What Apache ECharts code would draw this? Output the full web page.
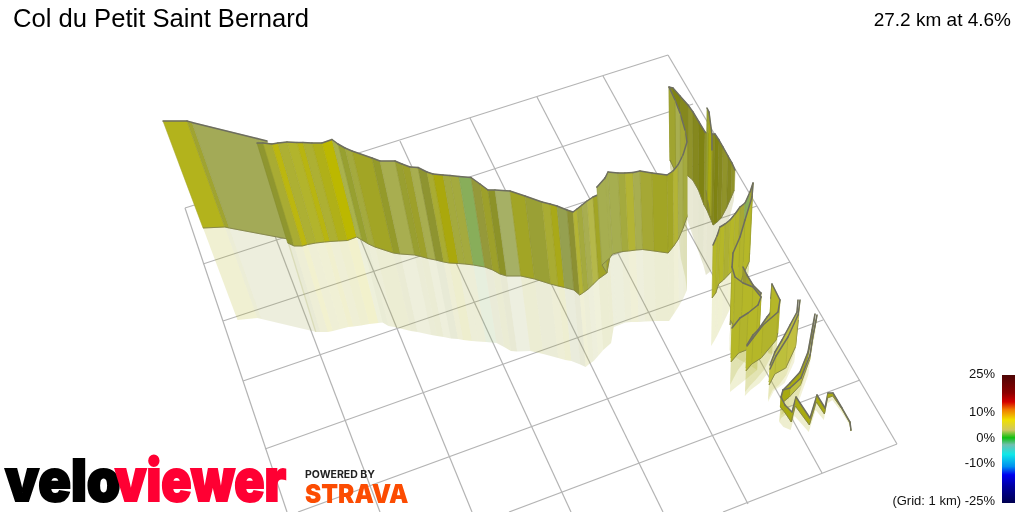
<!DOCTYPE html>
<html><head><meta charset="utf-8">
<style>html,body{margin:0;padding:0;background:#fff}#c{width:1024px;height:512px}</style>
<script src="https://cdn.jsdelivr.net/npm/echarts@6/dist/echarts.min.js"></script>
</head><body><div id="c"></div>
<script>
// Values, in the chart's plan units.
// Each vertex: [along, topLevel, baseLevel, shadowLevel, shadeIndex]; shadowLevel null = no shadow panel
var shades = ['#b3b31c','#a0a430','#a3aa57','#8f962f','#a9ac33','#bcb70f','#adb033','#b2b42c','#b8b510','#b0b018','#bcb800','#a9b24c','#97a030','#a4aa3e','#a2a525','#949a2a','#a8ae50','#999f30','#8e9430','#a9a918','#aaa80c','#88ae5a','#95993a','#9da02a','#8c9228','#a6b065','#9aa035','#95a050','#8c9032','#b3b435','#b5b84a','#a6ae50','#a5a835','#85881e','#7f8312','#90932a','#b5b728','#bdbf3c','#a8aa10','#c2c040','#9a9a30'];

var wallLeft = [[163,121,228,320,0],[187,121,227,318,1],[192,122.4,228,319,2],[257,138.5,239,332,2],[267,141,241,null,2]];
var wallMain = [[257,143,243,332,3],[263,143,246,332,4],[272,144,246,332,5],[278,143,244.5,331,6],[287,142,243,329,7],[297,142.5,242,327,8],[303,142.5,241.5,326.5,6],[312,143,241,325.5,9],[322,143,240.5,324,10],[332,139.5,237,323,11],[338,144,240,322.5,12],[345,148,244,326,13],[352,151,247,327,14],[372,158,253,331,15],[380,161,254,332,16],[395,161,255,335,17],[402,164,256.5,336,23],[410,167,258.5,337,16],[418,167.5,260,338.5,18],[427,172,262,339,4],[433,174,263,340,20],[443,175,263.5,341,13],[450,175.5,264,341.5,13],[459,176.5,265,342,21],[471,177.5,267,343,22],[480,184,270,347,23],[488,190,274,351,24],[495,190,276,351.5,25],[510,191,276,351,14],[525,196,279,354,26],[542,202,284,358,4],[550,204,286,360,19],[557,206,287.5,361,27],[567,210,290,364.5,28],[573,212,295,367,29],[577,209,292.5,364,13],[582,205,289,361,16],[587,201,284.5,356,30],[593,197,279,350,14],[602,193,273,343,14],[605,178,258,327,31],[608,172,254,326,31],[618,173,251.5,322.5,13],[625,173,251,322,29],[633,172.5,250,322,16],[640,171,249.5,321.5,32],[652,173,251,321,14],[667,175,253,321,14],[673,171,246,313,29],[678,165,239,306,16],[683,155,228,298,13],[687,142,217,290,12]];
var wallKink = [[602,193,273,null,31],[597,187,265,null,31],[605,178,258,null,31]];
var hairpinBack = [[687,142,217,290,13],[685,130,203,277,32],[680,113,186,258,16],[675,100,172,210,1],[669,87,160,168,1]];
var farWall = [[669,87,160,168,33],[673,88,165,180,34],[680,96,170,200,33],[688,105,176,222,35],[693,112,180,235,33],[699,122,190,250,34],[705,132,205,265,35],[708,134,210,275,33],[715,134,225,270,34],[719,140,222,260,33],[723,147,218,250,35],[728,156,208,230,33],[732,163,198,215,35],[735,170,190,200,33]];
var spike = [[707,108,190,195,12],[709,112,200,205,38],[712,135,216,220,1],[712,150,216,220,1]];
var wall3Back = [[713,245,298,346,36],[717,236,293,340,7],[720,227,284,335,36],[725,224,280,325,6],[730,220,275,315,36],[735,214,270,305,7],[740,207,267,300,32],[745,203,262,290,21],[750,192,258,280,32],[753,183,253,270,32]];
var wall3Front = [[753,183,253,270,32],[752,197,262,280,36],[745,220,276,296,7],[740,237,294,314,36],[733,253,310,330,40],[732,267,325,345,40]];
var wall4Back = [[743,267,310,320,40],[747,275,315,325,14],[753,285,320,330,40],[761,293,330,345,14],[758,301,338,352,14],[748,309,345,360,14],[740,314,350,370,14],[732,323,358,385,14]];
var wall4Front = [[732,267,320,350,36],[735,277,325,355,7],[743,283,330,360,36],[753,287,335,365,36],[761,297,340,370,36],[758,305,342,372,36],[748,313,350,380,7],[740,318,353,386,36],[732,328,362,392,36]];
var wall5Back = [[772,284,330,350,6],[771,298,333,353,6],[775,307,336,355,6],[767,317,348,370,6],[758,330,358,380,6],[753,335,361,385,6],[747,345,368,392,6]];
var wall5Front = [[772,284,332,352,36],[780,300,333,355,36],[778,312,340,365,7],[763,325,358,383,36],[753,338,364,390,36],[747,346,371,396,36]];
var wall6Back = [[798,300,318,332,37],[797,312,340,355,37],[790,325,360,375,37],[782,340,368,385,37],[775,352,372,390,37],[770,365,382,400,37]];
var wall6Front = [[800,300,320,335,37],[798,315,347,362,39],[788,337,368,383,37],[776,356,374,391,37],[770,369,385,402,37]];
var wall7Back = [[815,314,318,330,37],[812,330,340,355,38],[808,352,358,372,38],[800,372,383,398,38],[790,383,395,410,38],[783,390,400,415,38]];
var wall7Front = [[817,315,318,333,39],[813,335,340,355,37],[810,355,360,375,39],[801,378,385,400,37],[790,388,397,413,38],[783,390,403,418,38],[781,397,407,422,38],[785,405,412,427,38],[792,412,422,430,38]];
var zigzag = [[792,412,422,430,38],[796,397,406,416,38],[810,418,425,432,38],[817,395,402,410,38],[825,408,414,420,38],[828,393,398,404,38],[833,393,396,400,38],[842,408,409,412,38],[850,422,423,425,38],[851,430,431,432,38]];
var ribbons = [wallLeft, farWall, spike, hairpinBack, wallMain, wallKink, wall3Back, wall3Front, wall4Back, wall4Front, wall5Back, wall5Front, wall6Back, wall6Front, wall7Back, wall7Front, zigzag];

// Grid: 1 km squares, [x1, y1, x2, y2]
var gridAcross = [[185,208,668,55],[203,264,693,104],[223,321,727,155],[243,381,757,206],[265,449,790,262],[298,512,823,320],[509,512,860,380],[723,512,897,444]];
var gridAlong = [[185,208,287,512],[256,186,380,512],[329,162,472,512],[400,141,571,512],[470,118,663,512],[537,97,748,504],[603,76,822,473],[668,55,897,444]];

var titleText = 'Col du Petit Saint Bernard';
var summaryText = '27.2 km at 4.6%';
var gradeTicks = [['25%',374],['10%',412],['0%',438],['-10%',463],['(Grid: 1 km) -25%',501]];
var rampStops = [[0,'#4d0505'],[0.14,'#8c0000'],[0.21,'#d40000'],[0.27,'#f07a00'],[0.35,'#f0e000'],[0.43,'#d0c860'],[0.49,'#10c010'],[0.545,'#70c0b0'],[0.62,'#10e8e8'],[0.715,'#0090f0'],[0.78,'#0000f0'],[0.87,'#0000a0'],[1,'#000050']];

function lean(x, y0, y1){ return x + (687 - x) / 1400 * (y1 - y0); }

var series = [];
series.push({
  type:'custom', coordinateSystem:'cartesian2d', z:1, silent:true,
  data: gridAcross.concat(gridAlong),
  renderItem:function(p, api){
    var a = api.coord([api.value(0), api.value(1)]), b = api.coord([api.value(2), api.value(3)]);
    return {type:'line', shape:{x1:a[0],y1:a[1],x2:b[0],y2:b[1]}, style:{stroke:'#b4b4b4',lineWidth:1.2,fill:null}};
  }
});

ribbons.forEach(function(rib, idx){
  var api0;
  function side(i, level){
    var v = rib[i], c = v[level];
    return api0.coord([lean(v[0], v[1], c), c]);
  }
  series.push({
    type:'custom', coordinateSystem:'cartesian2d', z:2, silent:true, data:rib,
    renderItem:function(p, api){
      api0 = api; var i = p.dataIndex;
      if (i >= rib.length - 1 || rib[i][3] === null || rib[i+1][3] === null) return null;
      var pts = [side(i,2), side(i+1,2), side(i+1,3), side(i,3)];
      return {type:'polygon', shape:{points:pts}, style:{fill:shades[rib[i][4]], opacity:0.2}};
    }
  });
  series.push({
    type:'custom', coordinateSystem:'cartesian2d', z:10+idx, silent:true, data:rib,
    renderItem:function(p, api){
      api0 = api; var i = p.dataIndex;
      if (i >= rib.length - 1) return null;
      var t0 = side(i,1), t1 = side(i+1,1), b0 = side(i,2), b1 = side(i+1,2);
      var col = shades[rib[i][4]];
      return {type:'group', children:[
        {type:'polygon', shape:{points:[t0,t1,b1,b0]}, style:{fill:col, stroke:col, lineWidth:0.5}},
        {type:'line', shape:{x1:t0[0],y1:t0[1],x2:b0[0],y2:b0[1]}, style:{stroke:'rgba(90,90,40,0.12)',lineWidth:0.8,fill:null}},
        {type:'line', shape:{x1:b0[0],y1:b0[1],x2:b1[0],y2:b1[1]}, style:{stroke:'#7b7b45',lineWidth:0.8,fill:null}},
        {type:'line', shape:{x1:t0[0],y1:t0[1],x2:t1[0],y2:t1[1]}, style:{stroke:'#6d6d60',lineWidth:1.5,fill:null,lineCap:'round'}}
      ]};
    }
  });
});

var graphics = gradeTicks.map(function(t){
  return {type:'text', x:995, y:t[1], silent:true, style:{text:t[0], font:'13px "Liberation Sans"', fill:'#111', align:'right', verticalAlign:'middle'}};
});
graphics.push({type:'rect', shape:{x:1002,y:375,width:13,height:128}, silent:true, style:{fill:new echarts.graphic.LinearGradient(0,0,0,1,rampStops.map(function(s){return {offset:s[0],color:s[1]};}))}});
graphics.push({type:'text', x:5, y:513, scaleX:0.93, z:50, silent:true, style:{text:'velo', font:'900 58px Inter', fill:'#000', stroke:'#000', lineWidth:2, verticalAlign:'bottom'}});
graphics.push({type:'text', x:115, y:513, scaleX:0.86, z:50, silent:true, style:{text:'viewer', font:'900 58px Inter', fill:'#ff0033', stroke:'#ff0033', lineWidth:2, verticalAlign:'bottom'}});
graphics.push({type:'text', x:305, y:480, z:50, silent:true, style:{text:'POWERED BY', font:'700 10.5px Inter', fill:'#222', verticalAlign:'bottom'}});
graphics.push({type:'text', x:305, y:508, scaleX:0.94, z:50, silent:true, style:{text:'STRAVA', font:'900 26px Inter', fill:'#fc4c02', verticalAlign:'bottom'}});

var chart = echarts.init(document.getElementById('c'), null, {renderer:'canvas', width:1024, height:512});
chart.setOption({
  animation:false, backgroundColor:'#fff',
  title:[
    {text:titleText, left:13, top:7, padding:0, textStyle:{fontFamily:'Liberation Sans', fontSize:25.6, fontWeight:'normal', color:'#000'}},
    {text:summaryText, right:13, top:11, padding:0, textStyle:{fontFamily:'Liberation Sans', fontSize:19, fontWeight:'normal', color:'#000'}}
  ],
  grid:{left:0,right:0,top:0,bottom:0},
  xAxis:{type:'value',min:0,max:1024,show:false},
  yAxis:{type:'value',min:0,max:512,inverse:true,show:false},
  graphic:graphics,
  series:series
});
</script></body></html>
